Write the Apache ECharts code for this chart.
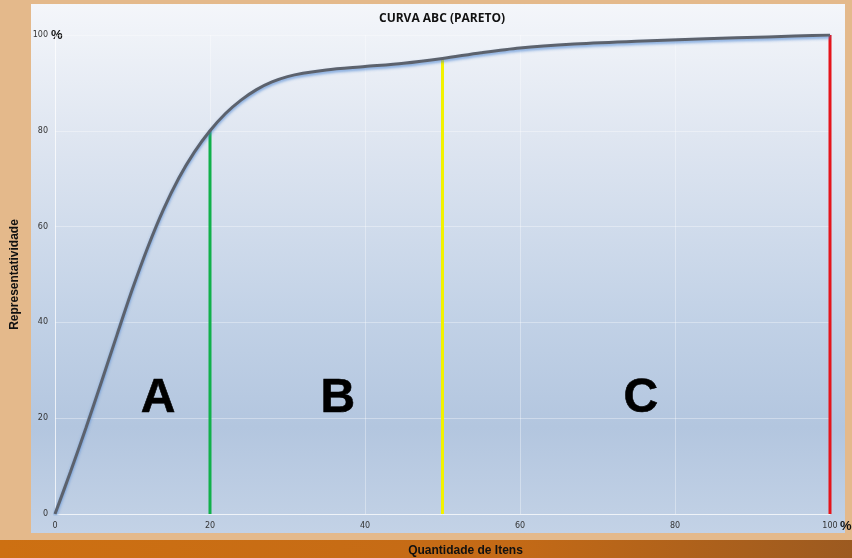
<!DOCTYPE html>
<html>
<head>
<meta charset="utf-8">
<script src="https://cdn.jsdelivr.net/npm/echarts@6/dist/echarts.min.js"></script>
<style>
    html, body { margin: 0; padding: 0; }
    #chart { width: 852px; height: 558px; }
</style>
</head>
<body>
<div id="chart"></div>
<script>
// curva acumulada (% itens x % valor)
var itemPct = [0, 2, 4, 6, 8, 10, 12, 14, 16, 18, 20, 22, 24, 26, 28, 30, 32, 35, 40, 45, 50, 55, 60, 67, 75, 84, 92, 100];
var valuePct = [0, 8.8, 18, 27.6, 37.4, 47, 55.8, 63.6, 70.2, 75.6, 80, 83.6, 86.4, 88.6, 90.2, 91.3, 92, 92.7, 93.4, 94.1, 95.1, 96.3, 97.3, 98.1, 98.7, 99.2, 99.6, 100];

// cortes das classes
var cutX = [20, 50, 100];
var cutY = [80, 95, 100];
var cutColors = ['#10b04a', '#f2f200', '#e5141b'];

// rotulos das classes
var zoneNames = ['A', 'B', 'C'];
var zoneX = [13.3, 36.5, 75.6];
var zoneY = [24, 24, 24];

var chart = echarts.init(document.getElementById('chart'));

function buildCurve() {
    var data = [];
    for (var i = 0; i < itemPct.length; i++) {
        data.push([itemPct[i], valuePct[i]]);
    }
    return data;
}

function buildCuts() {
    var list = [];
    for (var i = 0; i < cutX.length; i++) {
        list.push({
            type: 'line',
            data: [[cutX[i], 0], [cutX[i], cutY[i]]],
            symbol: 'none',
            silent: true,
            z: 3,
            lineStyle: { color: cutColors[i], width: 3 }
        });
    }
    return list;
}

function buildZones() {
    var data = [];
    for (var i = 0; i < zoneNames.length; i++) {
        data.push({ name: zoneNames[i], value: [zoneX[i], zoneY[i]] });
    }
    return data;
}

var tickLabel = {
    fontFamily: 'DejaVu Sans',
    fontSize: 8,
    color: '#333'
};

var option = {
    backgroundColor: '#e4b98b',
    animation: false,
    graphic: [
        {
            type: 'rect',
            z: -10,
            shape: { x: 0, y: 540, width: 852, height: 18 },
            style: {
                fill: new echarts.graphic.LinearGradient(0, 0, 1, 0, [
                    { offset: 0, color: '#cd7012' },
                    { offset: 0.6, color: '#c46a16' },
                    { offset: 1, color: '#9c5a20' }
                ])
            }
        },
        {
            type: 'rect',
            z: -9,
            shape: { x: 31, y: 4, width: 814, height: 529 },
            style: {
                fill: new echarts.graphic.LinearGradient(0, 0, 0, 1, [
                    { offset: 0, color: '#f4f6fa' },
                    { offset: 0.25, color: '#dfe6f1' },
                    { offset: 0.6, color: '#c1d1e6' },
                    { offset: 0.8, color: '#b3c6df' },
                    { offset: 1, color: '#c3d2e6' }
                ])
            }
        },
        {
            type: 'text',
            left: 51, top: 29,
            style: { text: '%', font: 'bold 13px "Liberation Sans"', fill: '#111' }
        },
        {
            type: 'text',
            left: 840, top: 520,
            style: { text: '%', font: 'bold 13px "Liberation Sans"', fill: '#111' }
        }
    ],
    title: {
        text: 'CURVA ABC (PARETO)',
        left: 437,
        top: 8,
        textAlign: 'center',
        textStyle: { fontFamily: 'Open Sans', fontWeight: 'bold', fontSize: 12, color: '#111' }
    },
    grid: { left: 55, right: 22, top: 35, bottom: 44, outerBoundsMode: 'none', containLabel: false },
    xAxis: {
        type: 'value',
        min: 0,
        max: 100,
        interval: 20,
        name: 'Quantidade de Itens',
        nameLocation: 'middle',
        nameGap: 31,
        nameTextStyle: { fontFamily: 'Liberation Sans', fontWeight: 'bold', fontSize: 12, color: '#111', padding: [0, 0, 0, 46] },
        axisLine: { lineStyle: { color: 'rgba(255,255,255,0.6)' } },
        axisTick: { show: false },
        axisLabel: Object.assign({ margin: 8 }, tickLabel),
        splitLine: { lineStyle: { color: 'rgba(255,255,255,0.35)' } }
    },
    yAxis: {
        type: 'value',
        min: 0,
        max: 100,
        interval: 20,
        name: 'Representatividade',
        nameLocation: 'middle',
        nameGap: 34,
        nameTextStyle: { fontFamily: 'Liberation Sans', fontWeight: 'bold', fontSize: 12, color: '#111' },
        axisLine: { show: true, lineStyle: { color: 'rgba(255,255,255,0.6)' } },
        axisTick: { show: false },
        axisLabel: Object.assign({ margin: 7 }, tickLabel),
        splitLine: { lineStyle: { color: 'rgba(255,255,255,0.35)' } }
    },
    series: [
        {
            type: 'line',
            data: buildCurve(),
            smooth: 0.3,
            symbol: 'none',
            z: 4,
            lineStyle: {
                color: '#5c626d',
                width: 3,
                shadowColor: 'rgba(70,130,210,0.7)',
                shadowBlur: 3,
                shadowOffsetY: 2
            }
        },
        {
            type: 'scatter',
            data: buildZones(),
            symbolSize: 0,
            silent: true,
            z: 5,
            itemStyle: { opacity: 1 },
            label: {
                show: true,
                position: 'inside',
                formatter: '{b}',
                fontFamily: 'Liberation Sans',
                fontWeight: 'bold',
                fontSize: 48,
                color: '#000',
                textBorderColor: '#000',
                textBorderWidth: 0.6
            }
        }
    ].concat(buildCuts())
};

chart.setOption(option);
</script>
</body>
</html>
